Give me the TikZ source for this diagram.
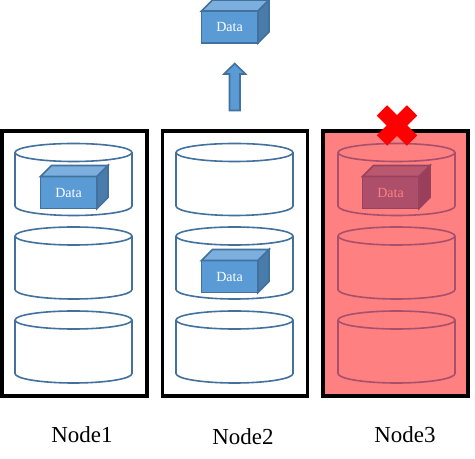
\documentclass[tikz,border=0pt]{standalone}
\usepackage{fontspec}
\setmainfont{Liberation Serif}
\definecolor{cylblue}{HTML}{41719C}
\definecolor{frontblue}{HTML}{5B9BD5}
\definecolor{topblue}{HTML}{7CAFDD}
\definecolor{sideblue}{HTML}{4A7CAB}
\definecolor{zonered}{HTML}{FF8080}
\definecolor{cylred}{HTML}{A84F6C}
\definecolor{frontred}{HTML}{AD4E6B}
\definecolor{topred}{HTML}{BA5870}
\definecolor{sidered}{HTML}{993F5C}
\definecolor{linered}{HTML}{98425E}
\tikzset{
  nodebox/.style={draw=black,line width=2.7pt,minimum width=109pt,minimum height=198.5pt,inner sep=0pt},
  nodelabel/.style={font=\fontsize{17.2pt}{19pt}\selectfont,inner sep=0pt},
  datalabel/.style={font=\fontsize{10.5pt}{12pt}\selectfont,inner sep=0pt},
  cylline/.style={line width=1.2pt},
  cubeline/.style={line width=1.3pt,line join=miter},
}
% left x, top ellipse centre y, colour
\newcommand{\drum}[3]{%
  \draw[cylline,draw=#3] (#1,#2) arc[start angle=180,end angle=540,x radius=58.5,y radius=9]
    (#1,#2) -- ++(0,53.5) arc[start angle=180,end angle=0,x radius=58.5,y radius=9.5] -- ++(0,-53.5);
}
% name, left x, front top y, front/top/side/line/text colours
\newcommand{\cube}[8]{%
  \fill[#4,draw=#7,cubeline] (#2,#3) rectangle ++(56.5,32);
  \fill[#5,draw=#7,cubeline] (#2,#3) -- ++(11,-11) -- ++(56.5,0) -- ++(-11,11) -- cycle;
  \fill[#6,draw=#7,cubeline] (#2+56.5,#3) -- ++(11,-11) -- ++(0,32) -- ++(-11,11) -- cycle;
  \node[datalabel,text=#8] (#1) at (#2+28,#3+16) {Data};
}
\begin{document}
\begin{tikzpicture}[x=0.75pt,y=-0.75pt]
\useasboundingbox (0,0) rectangle (475,459);
\node[nodebox,fill=white] (box1) at (74.5,263.5) {};
\node[nodebox,fill=white] (box2) at (235,263.5) {};
\node[nodebox,fill=zonered] (box3) at (395.5,263.5) {};
\foreach \yy in {152.5,236,320}{
  \drum{15}{\yy}{cylblue}
  \drum{176}{\yy}{cylblue}
  \drum{338}{\yy}{cylred}
}
\cube{cubeA}{40.5}{176.5}{frontblue}{topblue}{sideblue}{cylblue}{white}
\cube{cubeB}{201.5}{260.5}{frontblue}{topblue}{sideblue}{cylblue}{white}
\cube{cubeC}{362.5}{176.5}{frontred}{topred}{sidered}{linered}{zonered}
\cube{cubeT}{201.5}{11}{frontblue}{topblue}{sideblue}{cylblue}{white}
\fill[frontblue,draw=cylblue,line width=1.2pt,line join=miter]
  (234.7,63.5) -- (245.5,74) -- (240,74) -- (240,110.5) -- (229.5,110.5) -- (229.5,74) -- (224,74) -- cycle;
\draw[red,line width=11pt] (382,110.5) -- (412,140.5);
\draw[red,line width=11pt] (412,110.5) -- (382,140.5);
\node[nodelabel] (lab1) at (82,435) {Node1};
\node[nodelabel] (lab2) at (243,437) {Node2};
\node[nodelabel] (lab3) at (405,435) {Node3};
\end{tikzpicture}
\end{document}
